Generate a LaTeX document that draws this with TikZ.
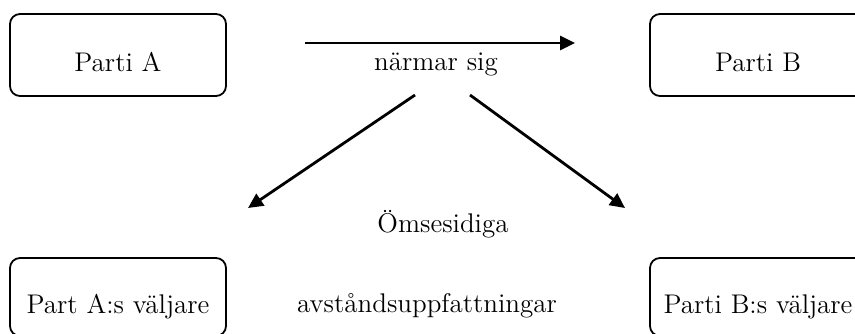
\documentclass[tikz,border=0pt]{standalone}
\usepackage{fontspec}
\usetikzlibrary{arrows.meta}
\begin{document}
\begin{tikzpicture}[x=0.5pt,y=-0.5pt,
	partbox/.style={draw,line width=0.9pt,rounded corners=5pt,minimum width=108pt,minimum height=41pt,text height=16pt,text depth=0pt,inner sep=0pt,font=\fontsize{13.5}{16}\selectfont},
	ord/.style={anchor=base,inner sep=0pt,font=\fontsize{13.5}{16}\selectfont},
	pil/.style={line width=1.4pt,-{Triangle[length=7.5pt,width=7pt]}}]
		\useasboundingbox (0,0) rectangle (855,333);
		\clip (0,0) rectangle (855,333);
		\node[partbox] (partiA) at (118,55) {Parti A};
		\node[partbox] (partiB) at (758,55) {Parti B};
		\node[partbox,minimum height=39pt] (valjA) at (118,297) {Part A:s väljare};
		\node[partbox,minimum height=39pt] (valjB) at (758,297) {Parti B:s väljare};
		\node[ord] (narmar) at (436,70) {närmar sig};
		\node[ord] (omses) at (443,232) {Ömsesidiga};
		\node[ord] (avst) at (427,312) {avståndsuppfattningar};
		\coordinate (p1) at (305,43);
		\coordinate (p2) at (575,43);
		\coordinate (v1) at (415,95);
		\coordinate (v2) at (248,208);
		\coordinate (h1) at (470,95);
		\coordinate (h2) at (625,208);
		\draw[pil] (p1)--(p2);
		\draw[pil] (v1)--(v2);
		\draw[pil] (h1)--(h2);
		\end{tikzpicture}
\end{document}
